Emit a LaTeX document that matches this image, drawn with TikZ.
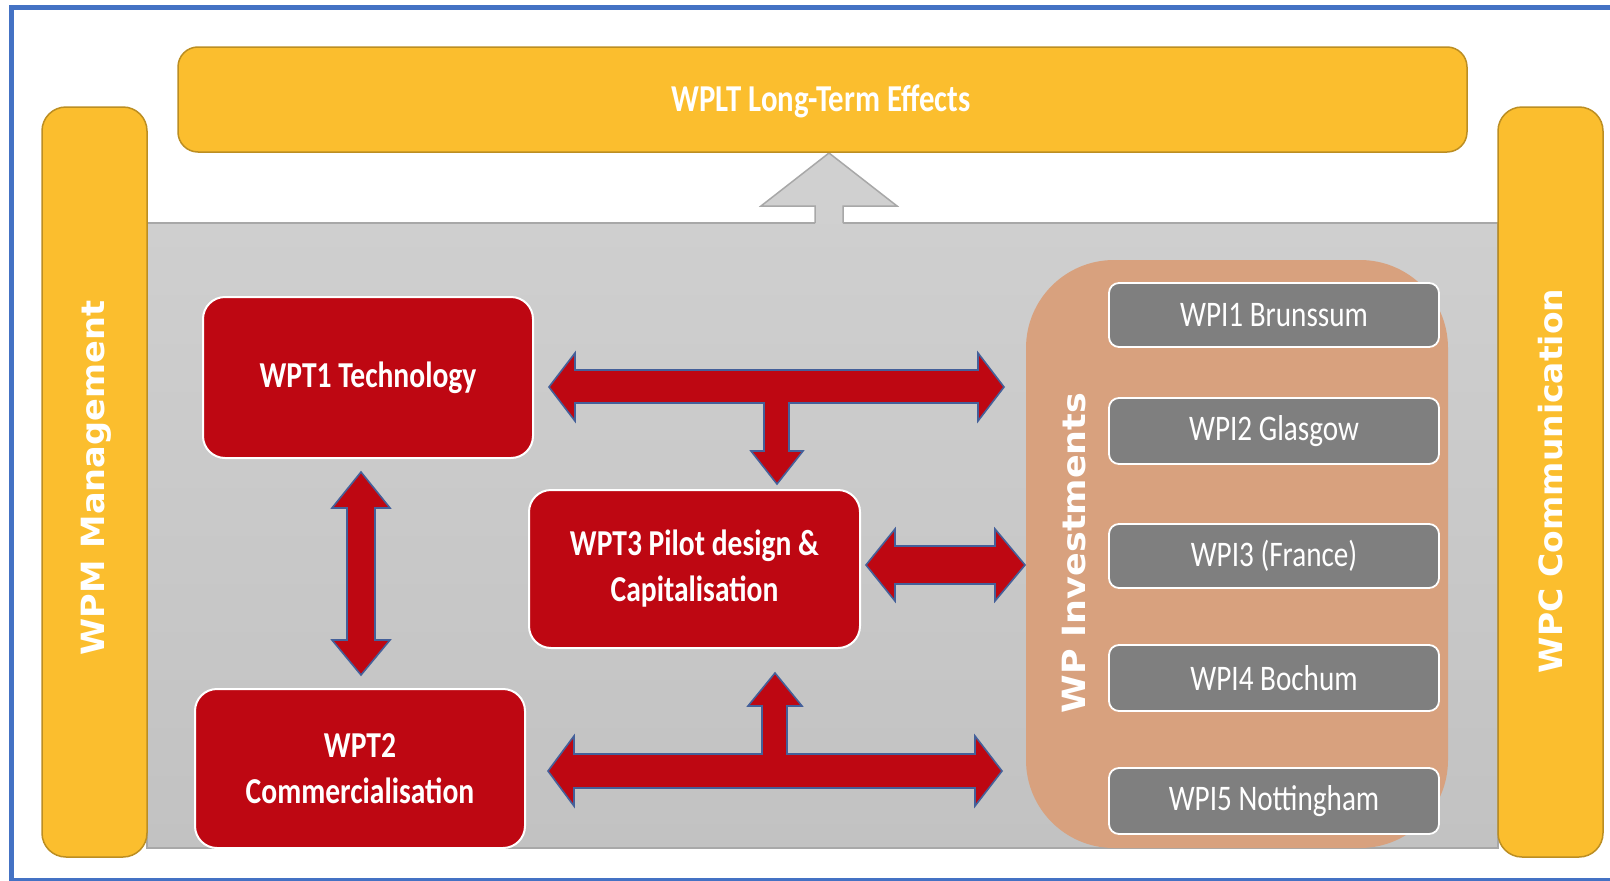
\documentclass[tikz,border=0pt]{standalone}
\usepackage{fontspec}
\setmainfont{Carlito}[FakeStretch=0.81]
\newfontfamily\sidefont{DejaVu Sans}[FakeStretch=1.05]

\definecolor{wpyellow}{HTML}{FBBE2E}
\definecolor{wpyedge}{HTML}{BC8E22}
\definecolor{wpred}{HTML}{BE0712}
\definecolor{wpblue}{HTML}{4472C4}
\definecolor{arrowedge}{HTML}{44609A}
\definecolor{paneltop}{HTML}{CFCFCF}
\definecolor{panelbot}{HTML}{C2C2C2}
\definecolor{paneledge}{HTML}{A8A8A8}
\definecolor{upfill}{HTML}{D0D0D0}
\definecolor{invest}{HTML}{D8A17E}
\definecolor{wpigray}{HTML}{7F7F7F}

\tikzset{
  sidebox/.style={draw=wpyedge, line width=1.5pt, fill=wpyellow, rounded corners=24pt,
    inner sep=0pt, text=white},
  sidetext/.style={rotate=90, inner sep=0pt, text=white,
    font=\sidefont\bfseries\fontsize{32}{38}\selectfont},
  redbox/.style={draw=white, line width=2pt, fill=wpred, rounded corners=22pt,
    inner sep=0pt, text=white, align=center,
    font=\bfseries\fontsize{36.5}{46}\selectfont},
  wpibox/.style={draw=white, line width=1.8pt, fill=wpigray, rounded corners=10pt,
    minimum width=330pt, inner sep=0pt, text=white,
    font=\fontsize{36}{43}\selectfont},
  blockarrow/.style={draw=arrowedge, line width=1.6pt, fill=wpred, line join=miter},
}

\begin{document}
\begin{tikzpicture}[x=1pt, y=-1pt]
\useasboundingbox (0,0) rectangle (1610,881);
\fill[white] (0,0) rectangle (1610,881);

% outer frame
\draw[wpblue, line width=5pt] (1630,7.5) -- (11,7.5) -- (11,880) -- (1630,880);

% grey work area
\shade[top color=paneltop, bottom color=panelbot] (147,223) rectangle (1498,848);
\draw[paneledge, line width=1.5pt] (147,223) rectangle (1498,848);

% arrow up into the long-term effects bar
\fill[upfill] (815,224) -- (815,206) -- (761,206) -- (829,153) -- (897,206) -- (843,206) -- (843,224) -- cycle;
\draw[paneledge, line width=1.5pt, line join=miter]
  (815,223) -- (815,206) -- (761,206) -- (829,153) -- (897,206) -- (843,206) -- (843,223);

% yellow frame boxes
\node[sidebox, minimum width=1289pt, minimum height=105pt, rounded corners=20pt] (lt) at (822.5,99.5) {};
\node[text=white, inner sep=0pt, font=\bfseries\fontsize{38}{45}\selectfont] (ltt) at (821,101) {WPLT Long-Term Effects};
\node[sidebox, minimum width=105pt, minimum height=750pt] (mgmt) at (94.5,482) {};
\node[sidetext] (mgmtt) at (96.5,478) {WPM Management};
\node[sidebox, minimum width=105pt, minimum height=750pt] (comm) at (1550.5,482) {};
\node[sidetext] (commt) at (1551,481) {\scalebox{0.98}[1]{WPC Communication}};

% investments group
\node[fill=invest, rounded corners=88pt, minimum width=422pt, minimum height=588pt, inner sep=0pt] (inv) at (1237,554) {};
\node[sidetext] (invt) at (1074,553) {\scalebox{1.04}[1]{WP Investments}};

\node[wpibox, minimum height=64pt] (wpi1) at (1274,315) {WPI1 Brunssum};
\node[wpibox, minimum height=66pt] (wpi2) at (1274,431) {WPI2 Glasgow};
\node[wpibox, minimum height=64pt] (wpi3) at (1274,556) {WPI3 (France)};
\node[wpibox, minimum height=66pt] (wpi4) at (1274,678) {WPI4 Bochum};
\node[wpibox, minimum height=66pt] (wpi5) at (1274,801) {WPI5 Nottingham};

% technical work packages
\node[redbox, minimum width=330pt, minimum height=161pt] (t1) at (368,377.5) {WPT1 Technology};
\node[redbox, minimum width=331pt, minimum height=158pt] (t3) at (694.5,569) {WPT3 Pilot design \&\\Capitalisation};
\node[redbox, minimum width=330pt, minimum height=159pt] (t2) at (360,768.5) {WPT2\\Commercialisation};

% block arrows
\draw[blockarrow] (549,387) -- (575,353) -- (575,370) -- (978,370) -- (978,353) -- (1004,387)
  -- (978,421) -- (978,403) -- (789,403) -- (789,451) -- (803,451) -- (777,484) -- (751,451)
  -- (764,451) -- (764,403) -- (575,403) -- (575,421) -- cycle;
\draw[blockarrow] (548,771) -- (574,736) -- (574,754) -- (762,754) -- (762,706) -- (748,706)
  -- (775,673) -- (802,706) -- (787,706) -- (787,754) -- (975,754) -- (975,736) -- (1002,771)
  -- (975,806) -- (975,788) -- (574,788) -- (574,806) -- cycle;
\draw[blockarrow] (361,472) -- (390,508) -- (375,508) -- (375,640) -- (390,640) -- (361,675)
  -- (332,640) -- (347,640) -- (347,508) -- (332,508) -- cycle;
\draw[blockarrow] (866,565) -- (895,529) -- (895,546) -- (995,546) -- (995,529) -- (1025,565)
  -- (995,601) -- (995,584) -- (895,584) -- (895,601) -- cycle;
\end{tikzpicture}
\end{document}
